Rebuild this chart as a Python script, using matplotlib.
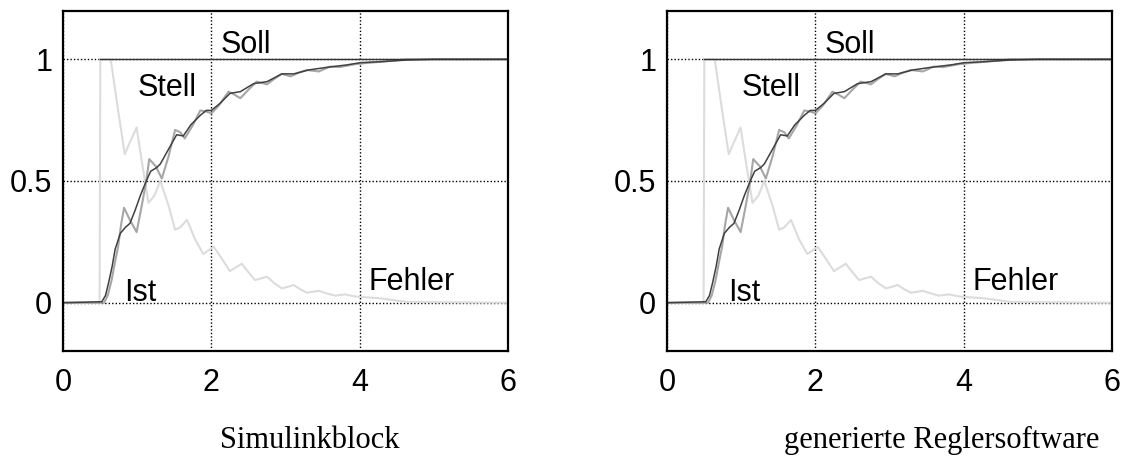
import numpy as np
import matplotlib
matplotlib.use('Agg')
import matplotlib.pyplot as plt

# values (time in s)
ist_t = [0, 0.55, 0.60, 0.65, 0.70, 0.74, 0.78, 0.82, 0.90, 0.99, 1.06, 1.12, 1.16,
         1.25, 1.33, 1.42, 1.51, 1.58, 1.64, 1.75, 1.85, 1.93, 2.0, 2.1, 2.23, 2.31,
         2.39, 2.5, 2.61, 2.68, 2.75, 2.85, 2.95, 3.01, 3.07, 3.18, 3.29, 3.37, 3.45,
         3.6, 3.73, 3.94, 4.1, 4.3, 4.64, 5.0, 6.0]
ist_y = [0, 0, 0.03, 0.09, 0.17, 0.23, 0.32, 0.39, 0.34, 0.29, 0.40, 0.50, 0.59,
         0.56, 0.51, 0.60, 0.71, 0.70, 0.675, 0.73, 0.79, 0.785, 0.778, 0.81, 0.867, 0.855,
         0.84, 0.875, 0.908, 0.903, 0.897, 0.92, 0.94, 0.935, 0.93, 0.945, 0.956, 0.953, 0.95,
         0.97, 0.968, 0.98, 0.985, 0.99, 1.0, 1.0, 1.0]

stell_t = [0, 0.52, 0.57, 0.61, 0.66, 0.70, 0.77, 0.84, 0.90, 0.97, 1.04, 1.12, 1.18,
           1.26, 1.31, 1.42, 1.53, 1.62, 1.72, 1.85, 1.93, 2.0, 2.12, 2.25, 2.39, 2.57,
           2.75, 2.95, 3.11, 3.31, 3.56, 3.83, 4.01, 4.28, 4.64, 5.0, 6.0]
stell_y = [0, 0.004, 0.03, 0.08, 0.15, 0.22, 0.285, 0.31, 0.326, 0.38, 0.44, 0.50, 0.54,
           0.555, 0.57, 0.63, 0.69, 0.685, 0.73, 0.77, 0.79, 0.79, 0.82, 0.86, 0.867, 0.90,
           0.908, 0.94, 0.94, 0.956, 0.967, 0.977, 0.986, 0.99, 0.997, 1.0, 1.0]

fehler_t = [0, 0.49, 0.50, 0.64, 0.74, 0.83, 0.90, 0.99, 1.05, 1.15, 1.23, 1.31, 1.42,
            1.51, 1.58, 1.67, 1.78, 1.89, 1.96, 2.03, 2.12, 2.25, 2.33, 2.41, 2.5, 2.59,
            2.67, 2.75, 2.85, 2.95, 3.03, 3.11, 3.2, 3.29, 3.37, 3.45, 3.56, 3.67, 3.74,
            3.81, 3.9, 3.96, 4.28, 4.64, 6.0]
fehler_y = [0, 0, 1, 1, 0.79, 0.61, 0.66, 0.72, 0.60, 0.41, 0.44, 0.50, 0.40,
            0.30, 0.31, 0.34, 0.26, 0.20, 0.215, 0.23, 0.19, 0.13, 0.145, 0.16, 0.125, 0.093,
            0.10, 0.107, 0.08, 0.059, 0.065, 0.073, 0.055, 0.041, 0.045, 0.049, 0.038, 0.029, 0.032,
            0.034, 0.028, 0.025, 0.018, 0.003, 0.0]

soll_t = [0.5, 6.0]
soll_y = [1.0, 1.0]

titles = ['Simulinkblock', 'generierte Reglersoftware']
title_x = [310, 942]  # pixel centre of the caption under each plot

fig = plt.figure(figsize=(11.23, 4.59), dpi=100)
W, H = 1123, 459

for k, left_px in enumerate([63.3, 667.3]):
    ax = fig.add_axes([left_px / W, 1 - 351.4 / H, 444.4 / W, 340.8 / H])
    ax.plot(fehler_t, fehler_y, color='#dcdcdc', lw=1.5)
    ax.plot(ist_t, ist_y, color='#a6a6a6', lw=1.5)
    ax.plot(stell_t, stell_y, color='#404040', lw=1.1)
    ax.plot(soll_t, soll_y, color='#333333', lw=1.0)

    ax.set_xlim(0, 6)
    ax.set_ylim(-0.2, 1.2)
    ax.set_xticks([0, 2, 4, 6])
    ax.set_yticks([0, 0.5, 1])
    ax.set_yticklabels(['0', '0.5', '1'])
    ax.grid(True, color='black', linestyle=(0, (1, 1.5)), lw=1.0)
    ax.tick_params(length=0, labelsize=22)
    ax.tick_params(axis='x', pad=12)
    ax.tick_params(axis='y', pad=8)
    for lab in ax.get_xticklabels() + ax.get_yticklabels():
        lab.set_family('Liberation Sans')
    for sp in ax.spines.values():
        sp.set_linewidth(1.6)
        sp.set_color('black')

    kw = dict(fontsize=22, family='Liberation Sans', va='baseline', ha='left')
    ax.text(2.12, 1.025, 'Soll', **kw)
    ax.text(1.01, 0.85, 'Stell', **kw)
    ax.text(0.82, 0.007, 'Ist', **kw)
    ax.text(4.12, 0.052, 'Fehler', **kw)

    fig.text(title_x[k] / W, 1 - 448.3 / H, titles[k], fontsize=22,
             family='Liberation Serif', ha='center', va='baseline')

fig.savefig('out.png', dpi=100)
